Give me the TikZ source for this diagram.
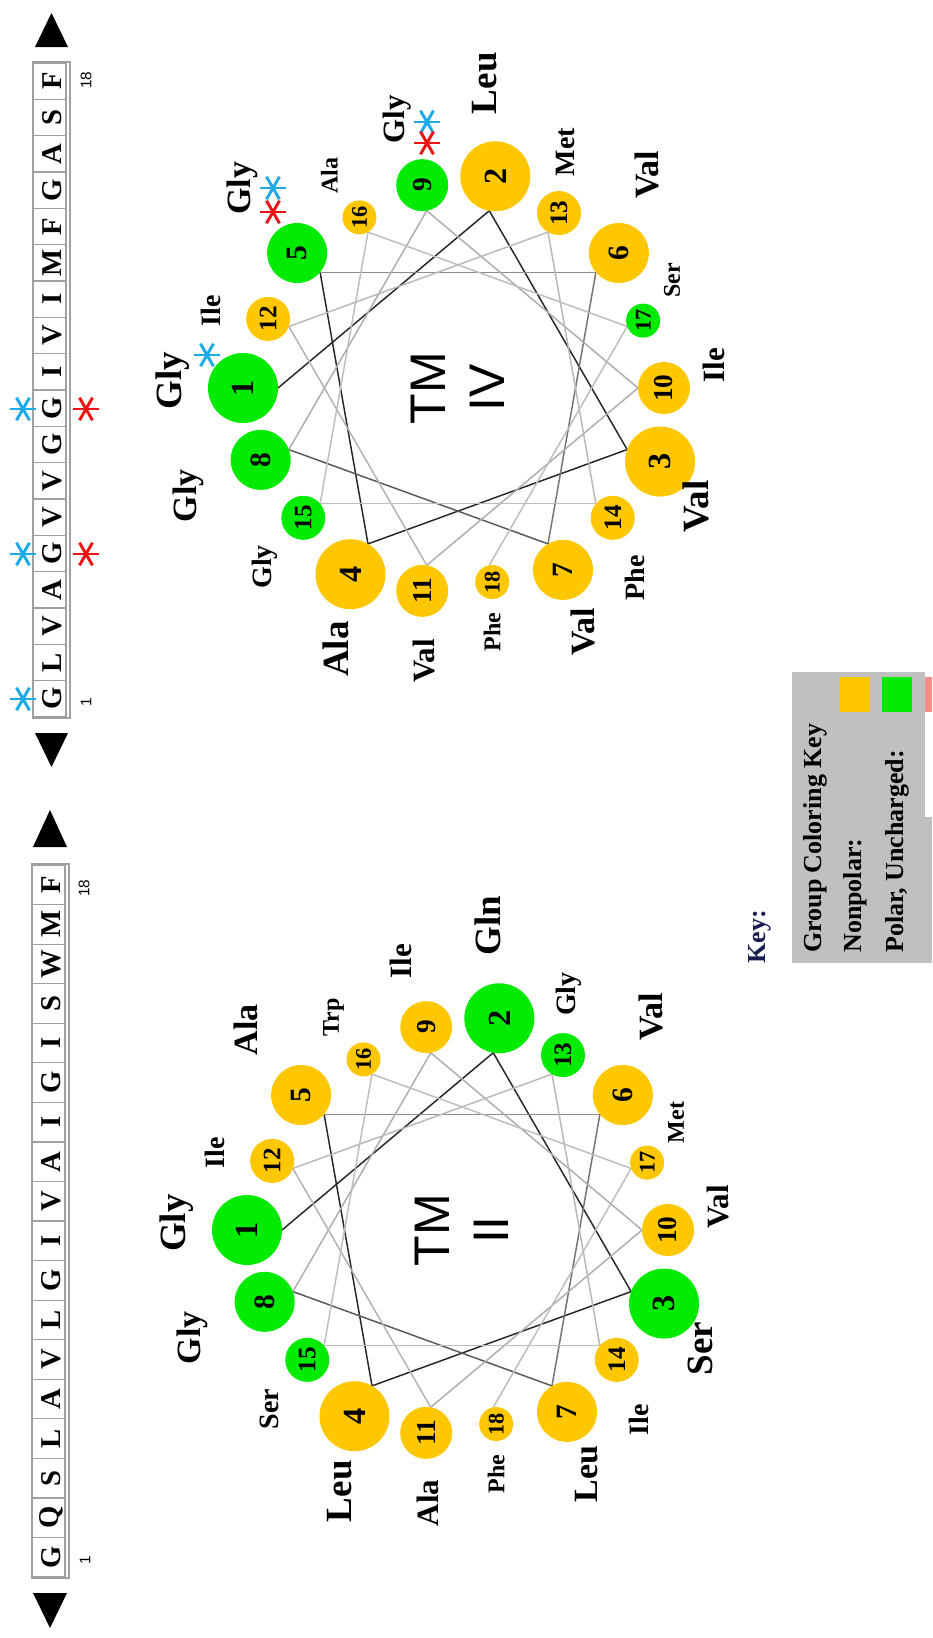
\documentclass[tikz,border=0pt]{standalone}
\usepackage{fontspec}
\setmainfont{Liberation Serif}
\newfontfamily\sansfont{Liberation Sans}
\definecolor{nonpolar}{RGB}{255,199,0}
\definecolor{polar}{RGB}{0,235,0}
\definecolor{astblue}{RGB}{30,170,230}
\definecolor{astred}{RGB}{235,20,20}
\definecolor{keygray}{RGB}{192,192,192}
\definecolor{keynavy}{RGB}{25,30,80}
\definecolor{cellgray}{RGB}{160,160,160}
\definecolor{keyred}{RGB}{250,140,140}

% label offsets from the centre of each residue disc
\def\ldxarr{{-70,-11,36,-15,-55,28,20,-72,-25,50,2,-57,6,22,-38,-30,29,0}}
\def\ldyarr{{-7,-93,45,75,-65,-78,62,36,-66,-23,70,-8,-61,60,49,-42,-40,50}}
% darkness of the connecting segments i -> i+1
\def\segarr{{85,85,85,85,45,55,65,32,32,32,30,28,28,26,26,26,26}}

\tikzset{
  resdot/.style={circle, inner sep=0pt, rotate=90},
  reslab/.style={rotate=90, inner sep=0pt},
  link/.style={line width=1.1pt},
  tmtext/.style={rotate=90, align=center, inner sep=0pt,
    font=\sansfont\fontsize{37.5}{44}\selectfont},
  seqletter/.style={rotate=90, inner sep=0pt,
    font=\bfseries\fontsize{21.5}{21.5}\selectfont},
  seqnum/.style={rotate=90, inner sep=0pt,
    font=\sansfont\fontsize{11.5}{11.5}\selectfont},
  ast/.style={line width=2.2pt},
  keytxt/.style={rotate=90, inner sep=0pt,
    font=\bfseries\fontsize{19.5}{19.5}\selectfont},
}

% #1,#2 centre, #3 name prefix, #4 residues n/colour/name, #5 title
\newcommand\helixwheel[5]{%
  \foreach \n in {1,...,18}{%
    \pgfmathsetmacro\th{(\n-1)*100}%
    \pgfmathsetmacro\ix{#1-180*cos(\th)}%
    \pgfmathsetmacro\iy{#2-180*sin(\th)}%
    \coordinate (#3i\n) at (\ix,\iy);
  }
  \foreach \n in {1,...,17}{%
    \pgfmathtruncatemacro\m{\n+1}%
    \pgfmathtruncatemacro\g{\segarr[\n-1]}%
    \draw[link, black!\g] (#3i\n) -- (#3i\m);
  }
  \foreach \n/\col/\lab in {#4}{%
    \pgfmathsetmacro\rr{\n<5?35:(\n<9?30:(\n<12?26:(\n<16?22:17)))}%
    \pgfmathsetmacro\th{(\n-1)*100}%
    \pgfmathsetmacro\px{#1-(180+\rr)*cos(\th)}%
    \pgfmathsetmacro\py{#2-(180+\rr)*sin(\th)}%
    \pgfmathsetmacro\dd{1.5*\rr}%
    \pgfmathsetmacro\fs{(0.55*\rr+13)*0.75}%
    \pgfmathsetmacro\lf{(\n<5?37:(\n<9?34:(\n<12?31:(\n<16?28:24))))*0.75}%
    \pgfmathsetmacro\lx{\px+\ldxarr[\n-1]}%
    \pgfmathsetmacro\ly{\py+\ldyarr[\n-1]}%
    \node[resdot, fill=\col, minimum size=\dd pt] (#3r\n) at (\px,\py)
      {\fontsize{\fs}{\fs}\selectfont\bfseries\n};
    \node[reslab] (#3l\n) at (\lx,\ly) {\fontsize{\lf}{\lf}\selectfont\bfseries\lab};
  }
  \node[tmtext] (#3t) at (#1,#2) {#5};
}

% sequence strip: #1 left x, #2 top y, #3 bottom y, #4 prefix, #5 letters
\newcommand\seqstrip[5]{%
  \pgfmathsetmacro\ch{(#3-#2)/18}%
  \draw[cellgray, line width=1.2pt] (#1,#2-1) rectangle (#1+37,#3+1);
  \foreach \k/\aa in {#5}{%
    \pgfmathsetmacro\yb{#3-(\k-1)*\ch}%
    \pgfmathsetmacro\yt{#3-\k*\ch}%
    \pgfmathsetmacro\yc{#3-(\k-0.5)*\ch}%
    \draw[cellgray, line width=0.9pt] (#1,\yb) rectangle (#1+33,\yt);
    \node[seqletter] (#4\k) at (#1+19.5,\yc) {\aa};
  }
}

\newcommand\astk[3]{%
  \draw[ast, #3] (#1-13,#2) -- (#1+13,#2);
  \draw[ast, #3] (#1-6.5,#2-11.3) -- (#1+6.5,#2+11.3);
  \draw[ast, #3] (#1+6.5,#2-11.3) -- (#1-6.5,#2+11.3);
}

\begin{document}
\begin{tikzpicture}[x=0.75pt,y=-0.75pt]
\useasboundingbox (0,0) rectangle (932,1638);
\fill[white] (0,0) rectangle (932,1638);

% ---- sequence strips ----
\seqstrip{33}{63}{717}{sa}{1/G,2/L,3/V,4/A,5/G,6/V,7/V,8/G,9/G,10/I,11/V,12/I,13/M,14/F,15/G,16/A,17/S,18/F}
\seqstrip{32}{865}{1577}{sb}{1/G,2/Q,3/S,4/L,5/A,6/V,7/L,8/G,9/I,10/V,11/A,12/I,13/G,14/I,15/S,16/W,17/M,18/F}

\node[seqnum] (na1) at (86,702) {1};
\node[seqnum] (na18) at (86,80) {18};
\node[seqnum] (nb1) at (85,1560) {1};
\node[seqnum] (nb18) at (84,888) {18};

% scroll arrows
\fill (35,47) -- (68,47) -- (51.5,13) -- cycle;
\fill (35,733) -- (68,733) -- (51.5,767) -- cycle;
\fill (33,847) -- (67,847) -- (50,810) -- cycle;
\fill (33,1593) -- (67,1593) -- (50,1628) -- cycle;

% glycine markers on the strip
\astk{23}{699}{astblue}
\astk{23}{554}{astblue}
\astk{23}{409}{astblue}
\astk{86}{554}{astred}
\astk{86}{409}{astred}

% ---- helical wheels ----
\helixwheel{458}{388}{w4}{1/polar/Gly,2/nonpolar/Leu,3/nonpolar/Val,4/nonpolar/Ala,5/polar/Gly,6/nonpolar/Val,7/nonpolar/Val,8/polar/Gly,9/polar/Gly,10/nonpolar/Ile,11/nonpolar/Val,12/nonpolar/Ile,13/nonpolar/Met,14/nonpolar/Phe,15/polar/Gly,16/nonpolar/Ala,17/polar/Ser,18/nonpolar/Phe}{TM\\IV}
\helixwheel{462}{1230}{w2}{1/polar/Gly,2/polar/Gln,3/polar/Ser,4/nonpolar/Leu,5/nonpolar/Ala,6/nonpolar/Val,7/nonpolar/Leu,8/polar/Gly,9/nonpolar/Ile,10/nonpolar/Val,11/nonpolar/Ala,12/nonpolar/Ile,13/polar/Gly,14/nonpolar/Ile,15/polar/Ser,16/nonpolar/Trp,17/nonpolar/Met,18/nonpolar/Phe}{TM\\II}

% glycine markers on the TM IV wheel
\astk{207}{355}{astblue}
\astk{273}{188}{astblue}
\astk{273}{212}{astred}
\astk{427}{122}{astblue}
\astk{427}{143}{astred}

% ---- colour key ----
\node[keytxt, text=keynavy] (key) at (760,937) {Key:};
\fill[keygray] (792,672) rectangle (925,963);
\fill[keygray] (925,817) rectangle (932,963);
\node[keytxt, anchor=west] (kh) at (815,953) {Group Coloring Key};
\node[keytxt, anchor=west] (k1) at (855,953) {Nonpolar:};
\node[keytxt, anchor=west] (k2) at (897,953) {Polar, Uncharged:};
\fill[nonpolar] (840,677) rectangle (870,712);
\fill[polar] (882,677) rectangle (912,712);
\fill[keyred] (925,677) rectangle (932,712);
\end{tikzpicture}
\end{document}
